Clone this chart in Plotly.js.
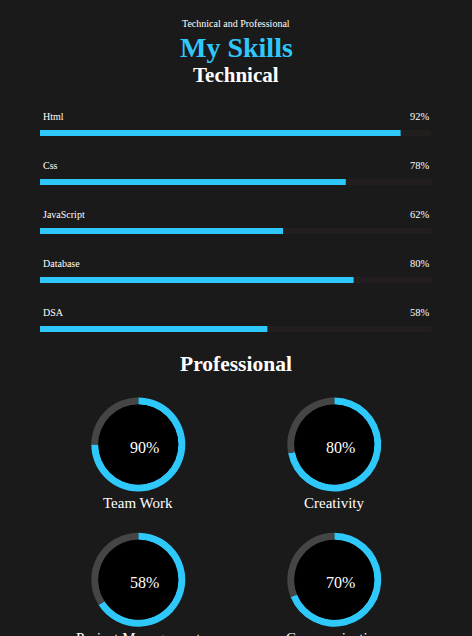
<!DOCTYPE html>
<html>
<head>
<meta charset="utf-8">
<script src="https://cdn.plot.ly/plotly-3.0.1.min.js"></script>
<style>
html,body{margin:0;padding:0;background:#1a1a1a;}
#chart{width:472px;height:636px;}
</style>
</head>
<body>
<div id="chart"></div>
<script>
// ---- data ----
const techCategories = ['Html', 'Css', 'JavaScript', 'Database', 'DSA'];
const techValues = [92, 78, 62, 80, 58];
const proSkills = ['Team Work', 'Creativity', 'Project Management', 'Communication'];
const proValues = [90, 80, 58, 70];
// arc lengths (%) as actually drawn around each ring in the reference
const proArcShown = [75, 72, 66, 69];
const trackMax = 100;

// ---- styling / layout constants ----
const W = 472, H = 636;
const BG = '#1a1a1a';
const BLUE = '#2ec8fb';
const TRACK = '#231e1e';
const RING_GRAY = '#454545';
const SERIF = '"Liberation Serif", "Times New Roman", serif';
const px = v => v / W;
const py = v => 1 - v / H;

const donutCenters = [[138.3, 444.5], [334.3, 444.5], [138.3, 579.7], [334.3, 579.7]];
const R_OUT = 47, R_IN = 40;

const traces = [];
// track bars
traces.push({
  type: 'bar', orientation: 'h',
  y: techCategories, x: techCategories.map(() => trackMax),
  marker: {color: TRACK}, width: 0.1224,
  hoverinfo: 'skip', showlegend: false, xaxis: 'x', yaxis: 'y'
});
// value bars
traces.push({
  type: 'bar', orientation: 'h',
  y: techCategories, x: techValues,
  marker: {color: BLUE}, width: 0.1224,
  hoverinfo: 'skip', showlegend: false, xaxis: 'x', yaxis: 'y'
});

// donut rings
proSkills.forEach((s, i) => {
  const [cx, cy] = donutCenters[i];
  traces.push({
    type: 'pie',
    values: [proArcShown[i], trackMax - proArcShown[i]],
    labels: [s + ' done', s + ' rest'],
    marker: {colors: [BLUE, RING_GRAY], line: {width: 0}},
    hole: R_IN / R_OUT,
    sort: false, direction: 'clockwise', rotation: 0,
    textinfo: 'none', hoverinfo: 'skip', showlegend: false,
    domain: {x: [px(cx - R_OUT), px(cx + R_OUT)], y: [py(cy + R_OUT), py(cy - R_OUT)]}
  });
});

const annotations = [];
const shapes = [];

// headings
annotations.push({xref: 'paper', yref: 'paper', x: 0.5, y: py(24), text: 'Technical and Professional',
  showarrow: false, font: {family: SERIF, size: 10, color: '#ffffff'}, xanchor: 'center', yanchor: 'middle'});
annotations.push({xref: 'paper', yref: 'paper', x: 0.5, y: py(47), text: '<b>My Skills</b>',
  showarrow: false, font: {family: SERIF, size: 28, color: BLUE}, xanchor: 'center', yanchor: 'middle'});
annotations.push({xref: 'paper', yref: 'paper', x: 0.5, y: py(75), text: '<b>Technical</b>',
  showarrow: false, font: {family: SERIF, size: 21, color: '#ffffff'}, xanchor: 'center', yanchor: 'middle'});
annotations.push({xref: 'paper', yref: 'paper', x: 0.5, y: py(364), text: '<b>Professional</b>',
  showarrow: false, font: {family: SERIF, size: 21.5, color: '#ffffff'}, xanchor: 'center', yanchor: 'middle'});

// bar labels
techCategories.forEach((c, i) => {
  annotations.push({xref: 'paper', yref: 'y', x: px(41), y: c, yshift: 16, text: c,
    showarrow: false, font: {family: SERIF, size: 10, color: '#ffffff'}, xanchor: 'left', yanchor: 'middle'});
  annotations.push({xref: 'paper', yref: 'y', x: px(432), y: c, yshift: 16, text: techValues[i] + '%',
    showarrow: false, font: {family: SERIF, size: 10.5, color: '#ffffff'}, xanchor: 'right', yanchor: 'middle'});
});

// donut inner discs, center text and captions
proSkills.forEach((s, i) => {
  const [cx, cy] = donutCenters[i];
  shapes.push({type: 'circle', xref: 'paper', yref: 'paper', layer: 'above',
    x0: px(cx - R_IN), x1: px(cx + R_IN), y0: py(cy + R_IN), y1: py(cy - R_IN),
    fillcolor: '#000000', line: {width: 0}});
  annotations.push({xref: 'paper', yref: 'paper', x: px(cx + 6), y: py(cy + 3), text: proValues[i] + '%',
    showarrow: false, font: {family: SERIF, size: 16, color: '#ffffff'}, xanchor: 'center', yanchor: 'middle'});
  annotations.push({xref: 'paper', yref: 'paper', x: px(cx), y: py(cy + 58), text: s,
    showarrow: false, font: {family: SERIF, size: 15, color: '#ffffff'}, xanchor: 'center', yanchor: 'middle'});
});

const layout = {
  width: W, height: H,
  margin: {l: 0, r: 0, t: 0, b: 0, pad: 0},
  paper_bgcolor: BG, plot_bgcolor: 'rgba(0,0,0,0)',
  barmode: 'overlay', barcornerradius: 3,
  xaxis: {domain: [px(40), px(432)], range: [0, trackMax], visible: false, fixedrange: true},
  yaxis: {domain: [py(353.5), py(108.5)], range: [4.5, -0.5], type: 'category', visible: false, fixedrange: true},
  annotations: annotations,
  shapes: shapes,
  showlegend: false
};

Plotly.newPlot('chart', traces, layout, {displayModeBar: false, staticPlot: true});
</script>
</body>
</html>
